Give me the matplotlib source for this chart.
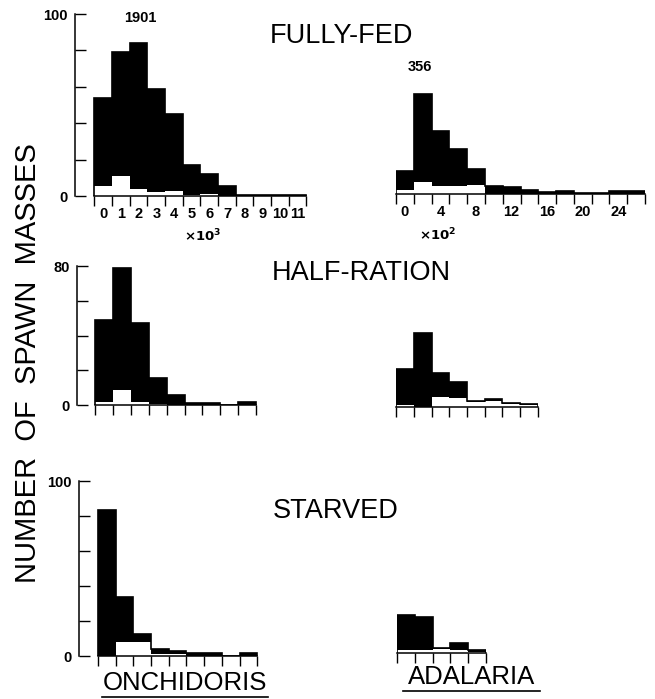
import matplotlib
matplotlib.use("Agg")
import matplotlib.pyplot as plt
import numpy as np

W, H = 655, 699

# Onchidoris (left column): total black histogram and inner white part
onch_fed_total = [54, 79, 84, 59, 45, 17, 12, 5.5, 0.8, 0.8, 0.8, 0.8]
onch_fed_inner = [5.5, 11, 4, 2, 3, 0.5, 1, 0, 0, 0, 0, 0]
onch_half_total = [49, 79, 47, 15.5, 6, 1, 1, 0, 1.5]
onch_half_inner = [2, 8.5, 1.5, 0.5, 0, 0, 0, 0, 0]
onch_starved_total = [83.5, 34, 12.5, 4, 3, 1.5, 1.5, 0, 1.5]
onch_starved_inner = [0, 8, 8, 1, 1, 0, 0, 0, 0]

# Adalaria (right column)
adal_fed_total = [12.7, 55, 35, 25, 14, 4.5, 4, 2, 1, 1.5, 0.5, 0.5, 1.5, 1.5]
adal_fed_inner = [2, 6.5, 4.5, 4.5, 5, 0, 0, 0, 0, 0, 0, 0, 0, 0]
adal_half_total = [22, 42.5, 19.5, 14.5, 3.5, 4.6, 2.5, 2]
adal_half_inner = [1, 0, 6, 5, 3, 3.5, 2, 1]
adal_starved_total = [22, 20.5, 3, 6, 2]
adal_starved_inner = [2, 2, 2.5, 2, 0.5]

onch_labels = [str(i) for i in range(12)]
adal_labels = ["0", "4", "8", "12", "16", "20", "24"]

plt.rcParams['font.family'] = ['Liberation Sans', 'DejaVu Sans']

fig = plt.figure(figsize=(W / 100, H / 100), dpi=100)


def px_axes(left, top, right, bottom):
    return fig.add_axes([left / W, 1 - bottom / H, (right - left) / W, (bottom - top) / H])


def draw_hist(ax, total, inner, ymax, left_axis):
    n = len(total)
    edges = np.arange(n + 1)
    ax.stairs(total, edges, fill=True, color='black', zorder=1)
    ax.stairs(inner, edges, fill=True, color='white', zorder=1.5)
    ax.stairs(total, edges, color='black', lw=1.2, zorder=1.6)
    ax.set_ylim(0, ymax)
    for s in ['top', 'right']:
        ax.spines[s].set_visible(False)
    ax.spines['bottom'].set_bounds(0, n)
    ax.spines['bottom'].set_linewidth(1.1)
    ax.set_xticks(edges)
    ax.set_xticklabels([])
    ax.tick_params(axis='x', which='major', direction='out', length=7, width=1.0)
    if left_axis:
        ax.spines['left'].set_bounds(0, ymax)
        ax.spines['left'].set_linewidth(1.1)
        ticks = np.arange(0, ymax + 1, 20)
        ax.set_yticks(ticks)
        ax.set_yticklabels([str(int(t)) if t in (0, ymax) else "" for t in ticks],
                           fontweight='bold', fontsize=10.5)
        ax.tick_params(axis='y', direction='in', length=8, width=1.0, pad=5)
    else:
        ax.spines['left'].set_visible(False)
        ax.set_yticks([])


# top row
ax = px_axes(75, 14, 310, 196)
ax.set_xlim(-1.1, 12.2)
draw_hist(ax, onch_fed_total, onch_fed_inner, 100, True)
ax.set_xticks(np.arange(12) + 0.5, onch_labels, minor=True, fontweight='bold', fontsize=10.5)
ax.tick_params(axis='x', which='minor', length=0, pad=8)

ax = px_axes(396, 13, 645, 194)
ax.set_xlim(0, 14)
draw_hist(ax, adal_fed_total, adal_fed_inner, 100, False)
ax.set_xticks(np.arange(0, 14, 2) + 0.5, adal_labels, minor=True, fontweight='bold', fontsize=10.5)
ax.tick_params(axis='x', which='minor', length=0, pad=8)

# middle row
ax = px_axes(77, 266, 258, 405)
ax.set_xlim(-1.0, 9.1)
draw_hist(ax, onch_half_total, onch_half_inner, 80, True)

ax = px_axes(396, 268, 538, 407)
ax.set_xlim(0, 8)
draw_hist(ax, adal_half_total, adal_half_inner, 80, False)

# bottom row
ax = px_axes(79, 481, 259, 656)
ax.set_xlim(-1.07, 9.1)
draw_hist(ax, onch_starved_total, onch_starved_inner, 100, True)

ax = px_axes(397, 478, 486, 653)
ax.set_xlim(0, 5)
draw_hist(ax, adal_starved_total, adal_starved_inner, 100, False)


def ftext(x, y, s, **kw):
    fig.text(x / W, 1 - y / H, s, **kw)


ftext(140, 18, "1901", ha='center', va='center', fontweight='bold', fontsize=10.5)
ftext(420, 67, "356", ha='center', va='center', fontweight='bold', fontsize=10.5)
ftext(203, 236, r"$\mathbf{\times10^3}$", ha='center', va='center', fontsize=9.5)
ftext(438, 235, r"$\mathbf{\times10^2}$", ha='center', va='center', fontsize=9.5)

ftext(270, 36, "FULLY-FED", ha='left', va='center', fontsize=19.5)
ftext(272, 273, "HALF-RATION", ha='left', va='center', fontsize=19.5)
ftext(273, 511, "STARVED", ha='left', va='center', fontsize=19.5)

ftext(28, 363, "NUMBER  OF  SPAWN  MASSES", rotation=90, ha='center', va='center', fontsize=21)

ftext(185, 683, "ONCHIDORIS", ha='center', va='center', fontsize=18.5)
ftext(472, 677, "ADALARIA", ha='center', va='center', fontsize=18.5)
fig.add_artist(plt.Line2D([102 / W, 268 / W], [1 - 697 / H, 1 - 697 / H], color='black', lw=1.2))
fig.add_artist(plt.Line2D([403 / W, 540 / W], [1 - 691 / H, 1 - 691 / H], color='black', lw=1.2))

fig.savefig("out.png", dpi=100)
